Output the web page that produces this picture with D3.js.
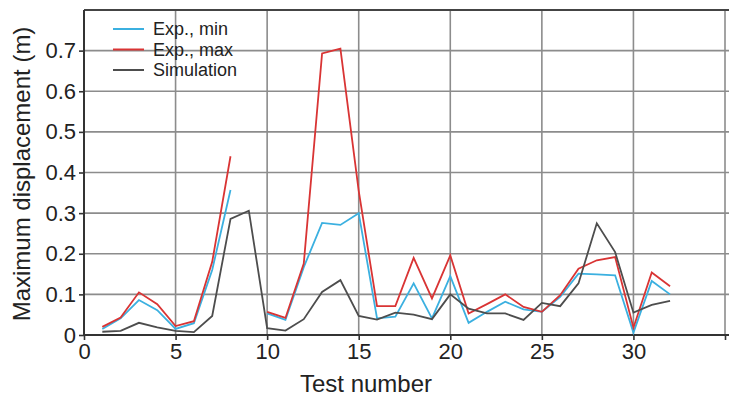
<!DOCTYPE html>
<html>
<head>
<meta charset="utf-8">
<script src="https://cdn.jsdelivr.net/npm/d3@7"></script>
<style>
  body { margin: 0; background: #fff; }
  svg text { font-family: "Liberation Sans", Arial, sans-serif; fill: #222; }
</style>
</head>
<body>
<div id="chart"></div>
<script>
// test numbers 1..32, null = no experiment for that test
const tests = d3.range(1, 33);
const expMin = [0.015, 0.041, 0.086, 0.061, 0.015, 0.029, 0.16, 0.357, null, 0.053,
  0.037, 0.167, 0.276, 0.271, 0.300, 0.041, 0.045, 0.127, 0.041, 0.145,
  0.030, 0.057, 0.082, 0.063, 0.057, 0.094, 0.151, 0.149, 0.147, 0.006,
  0.133, 0.10];
const expMax = [0.020, 0.043, 0.105, 0.076, 0.022, 0.034, 0.18, 0.44, null, 0.057,
  0.042, 0.176, 0.693, 0.705, 0.355, 0.071, 0.071, 0.19, 0.09, 0.196,
  0.053, 0.076, 0.10, 0.069, 0.057, 0.098, 0.163, 0.184, 0.192, 0.018,
  0.154, 0.12];
const sim = [0.008, 0.010, 0.030, 0.019, 0.010, 0.007, 0.047, 0.286, 0.306, 0.017,
  0.011, 0.039, 0.106, 0.135, 0.047, 0.038, 0.055, 0.05, 0.039, 0.10,
  0.065, 0.053, 0.053, 0.037, 0.079, 0.071, 0.127, 0.275, 0.204, 0.055,
  0.074, 0.084];
const xTicks = [0, 5, 10, 15, 20, 25, 30, 35];
const xTickLabels = ['0', '5', '10', '15', '20', '25', '30', ''];
const yTicks = [0, 0.1, 0.2, 0.3, 0.4, 0.5, 0.6, 0.7];
const series = [
  { name: 'Exp., min', values: expMin, color: '#3bb0e0' },
  { name: 'Exp., max', values: expMax, color: '#d93434' },
  { name: 'Simulation', values: sim, color: '#4d4d4d' }
];

const W = 729, H = 398;
const margin = { left: 84, top: 10, bottom: 335, right: 729 };

const svg = d3.select('#chart')
  .append('svg')
  .attr('width', W)
  .attr('height', H);

const x = d3.scaleLinear().domain([0, 35]).range([margin.left, 725]);
const y = d3.scaleLinear().domain([0, 0.8]).range([margin.bottom, margin.top]);

// grid
const grid = svg.append('g').attr('stroke', '#8c8c8c').attr('stroke-width', 1.6);
grid.selectAll('.gx')
  .data(xTicks.slice(1))
  .enter()
  .append('line')
  .attr('x1', d => x(d)).attr('x2', d => x(d))
  .attr('y1', margin.top).attr('y2', margin.bottom);
grid.selectAll('.gy')
  .data(yTicks.slice(1))
  .enter()
  .append('line')
  .attr('x1', margin.left).attr('x2', margin.right)
  .attr('y1', d => y(d)).attr('y2', d => y(d));

// top frame
svg.append('line')
  .attr('x1', margin.left).attr('x2', margin.right)
  .attr('y1', margin.top).attr('y2', margin.top)
  .attr('stroke', '#444').attr('stroke-width', 2.2);

// axes
const xAxis = svg.append('g')
  .attr('transform', 'translate(0,' + margin.bottom + ')')
  .call(d3.axisBottom(x).tickValues(xTicks).tickFormat((d, i) => xTickLabels[i])
    .tickSizeInner(5).tickSizeOuter(0).tickPadding(3));
const yAxis = svg.append('g')
  .attr('transform', 'translate(' + margin.left + ',0)')
  .call(d3.axisLeft(y).tickValues(yTicks).tickFormat(d => d === 0 ? '0' : d3.format('.1f')(d))
    .tickSizeInner(5).tickSizeOuter(0).tickPadding(3));

[xAxis, yAxis].forEach(a => {
  a.select('.domain').remove();
  a.selectAll('.tick line').attr('stroke', '#333').attr('stroke-width', 1.6);
  a.selectAll('.tick text').style('font-size', '22px').attr('fill', '#222');
});

svg.append('line')
  .attr('x1', margin.left).attr('x2', margin.right)
  .attr('y1', margin.bottom).attr('y2', margin.bottom)
  .attr('stroke', '#333').attr('stroke-width', 2);
svg.append('line')
  .attr('x1', margin.left).attr('x2', margin.left)
  .attr('y1', margin.top).attr('y2', margin.bottom)
  .attr('stroke', '#333').attr('stroke-width', 2);

// lines
const line = d3.line()
  .defined(d => d.v !== null)
  .x(d => x(d.t))
  .y(d => y(d.v));

series.forEach(s => {
  svg.append('path')
    .datum(tests.map((t, i) => ({ t: t, v: s.values[i] })))
    .attr('d', line)
    .attr('fill', 'none')
    .attr('stroke', s.color)
    .attr('stroke-width', 1.8)
    .attr('stroke-linejoin', 'miter');
});

// legend
const legend = svg.append('g');
series.forEach((s, i) => {
  const ly = 29 + i * 20.5;
  legend.append('line')
    .attr('x1', 113).attr('x2', 144)
    .attr('y1', ly).attr('y2', ly)
    .attr('stroke', s.color).attr('stroke-width', 2);
  legend.append('text')
    .attr('x', 153).attr('y', ly + 6)
    .style('font-size', '18px')
    .text(s.name);
});

// axis titles
svg.append('text')
  .attr('x', 366).attr('y', 392)
  .attr('text-anchor', 'middle')
  .style('font-size', '24px')
  .text('Test number');
svg.append('text')
  .attr('transform', 'translate(30,174)rotate(-90)')
  .attr('text-anchor', 'middle')
  .style('font-size', '24px')
  .text('Maximum displacement (m)');
</script>
</body>
</html>
